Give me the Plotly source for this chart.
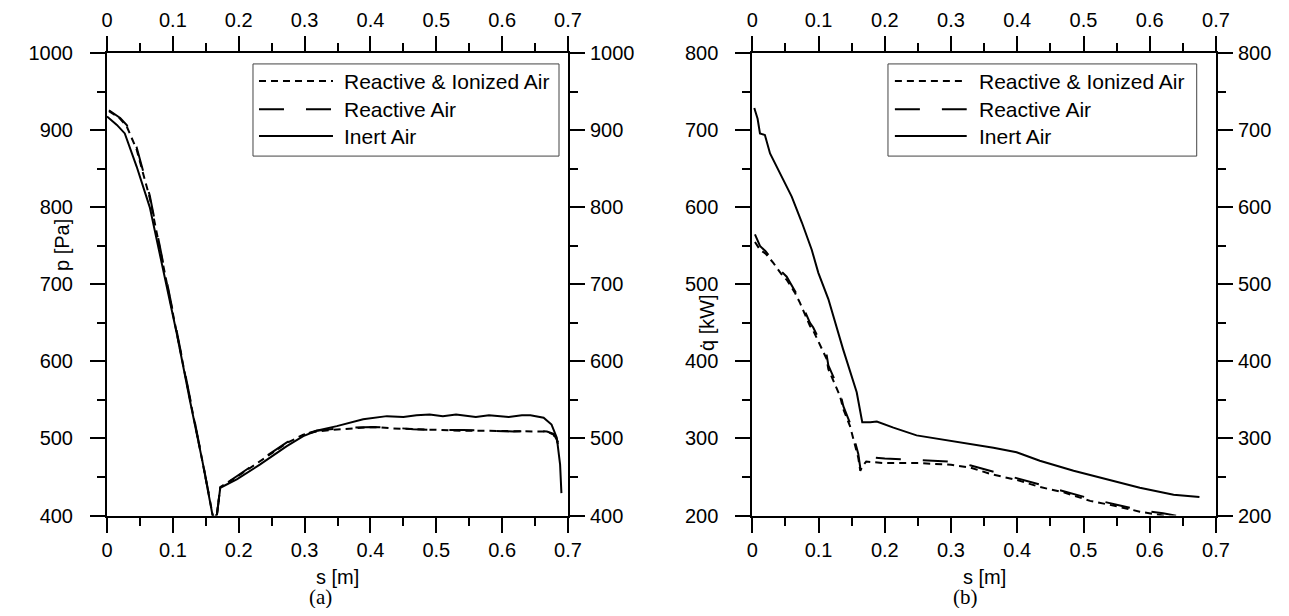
import plotly.graph_objects as go

# ---- panel (a): pressure along s ----
s_inert_a = [0.0, 0.005, 0.015, 0.027, 0.045, 0.065, 0.085, 0.106, 0.126, 0.145, 0.161, 0.1645,
             0.167, 0.172, 0.197, 0.232, 0.273, 0.298, 0.318, 0.349, 0.389, 0.425, 0.45, 0.47,
             0.49, 0.51, 0.53, 0.541, 0.56, 0.58, 0.592, 0.61, 0.63, 0.643, 0.663, 0.675, 0.683,
             0.688, 0.690]
p_inert = [918, 914, 907, 896, 853, 800, 722, 636, 549, 470, 397, 399,
           402, 436, 447, 466, 490, 503, 510, 516, 525, 529, 528, 530,
           531, 529, 531, 530, 528, 530, 529, 528, 530, 530, 527, 518, 501,
           466, 429]

s_react_a = [0.003, 0.01, 0.02, 0.03, 0.045, 0.065, 0.085, 0.106, 0.126, 0.145, 0.1615, 0.164,
             0.167, 0.172, 0.197, 0.232, 0.273, 0.298, 0.318, 0.339, 0.37, 0.404, 0.435, 0.465,
             0.5, 0.541, 0.58, 0.617, 0.65, 0.668, 0.678, 0.685]
p_react_ion = [925, 921, 915, 905, 875, 812, 727, 640, 551, 470, 396, 398,
               402, 437, 450, 470, 494, 505, 509, 511, 513, 515, 513, 512,
               511, 510, 510, 509, 509, 509, 505, 493]
p_react = [926, 922, 916, 907, 878, 815, 729, 641, 552, 471, 397, 396,
           401, 436, 451, 471, 495, 505, 510, 512, 514, 515, 514, 512,
           511, 511, 510, 509, 510, 509, 506, 495]

# ---- panel (b): heat flux along s ----
s_inert_b = [0.003, 0.008, 0.0116, 0.019, 0.0268, 0.0368, 0.049, 0.0595, 0.075, 0.0897, 0.0997,
             0.1148, 0.137, 0.1576, 0.166, 0.178, 0.188, 0.2, 0.213, 0.248, 0.298, 0.33, 0.364,
             0.399, 0.434, 0.485, 0.535, 0.585, 0.636, 0.675]
q_inert = [729, 715, 696, 694, 670, 653, 632, 614, 580, 545, 515,
           481, 416, 360, 321, 321, 322, 318, 314, 304, 297, 293, 288,
           282, 271, 258, 247, 236, 227, 224]

s_react_b = [0.004, 0.0116, 0.02, 0.0317, 0.045, 0.0519, 0.0645, 0.072, 0.0871, 0.092, 0.1123,
             0.1148, 0.1324, 0.1374, 0.1475, 0.155, 0.16, 0.163, 0.167, 0.172, 0.2, 0.25, 0.3,
             0.33, 0.359, 0.4, 0.434, 0.47, 0.51, 0.55, 0.585, 0.62, 0.65, 0.675]
q_react_ion = [555, 545, 540, 528, 512, 506, 489, 476, 446, 440, 403,
               390, 355, 338, 316, 291, 275, 258, 265, 270, 268, 268, 266,
               262, 254, 246, 237, 230, 219, 212, 205, 200, 196, 192]
q_react = [565, 550, 543, 530, 516, 510, 492, 480, 450, 444, 408,
           395, 360, 342, 320, 295, 280, 262, 272, 276, 274, 272, 270,
           265, 258, 249, 240, 232, 222, 214, 207, 203, 198, 194]

legend_names = ["Reactive & Ionized Air", "Reactive Air", "Inert Air"]
dashes = ["7px,5px", "25px,22px", "solid"]

FONT = "Liberation Sans, Arial, sans-serif"
SERIF = "Liberation Serif, Times New Roman, serif"
PAGE_W, PAGE_H = 1289, 616
OFF = 8  # default body margin of the html page
W, H = PAGE_W - 2 * OFF, PAGE_H - 2 * OFF


def fx(px):
    return (px - OFF) / W


def fy(py):
    return (H - (py - OFF)) / H


fig = go.Figure()


def line(x, y, dash, xa, ya):
    return go.Scatter(x=x, y=y, mode="lines", line=dict(color="black", width=2, dash=dash),
                      xaxis=xa, yaxis=ya, showlegend=False, hoverinfo="skip")


fig.add_trace(line(s_react_a, p_react_ion, dashes[0], "x", "y"))
fig.add_trace(line(s_react_a, p_react, dashes[1], "x", "y"))
fig.add_trace(line(s_inert_a, p_inert, dashes[2], "x", "y"))
fig.add_trace(line(s_react_b, q_react_ion, dashes[0], "x2", "y2"))
fig.add_trace(line(s_react_b, q_react, dashes[1], "x2", "y2"))
fig.add_trace(line(s_inert_b, q_inert, dashes[2], "x2", "y2"))

# empty traces so the mirrored (top / right) axes get drawn with labels
for xa, ya in [("x3", "y"), ("x", "y3"), ("x4", "y2"), ("x2", "y4")]:
    fig.add_trace(go.Scatter(x=[None], y=[None], xaxis=xa, yaxis=ya, showlegend=False,
                             hoverinfo="skip"))

ydom = [fy(515.5), fy(53.3)]
dom_a = [fx(107), fx(568)]
dom_b = [fx(752.3), fx(1216)]


def axis(**kw):
    d = dict(showline=True, linewidth=2, linecolor="black", showgrid=False, zeroline=False,
             ticks="outside", ticklen=15, tickwidth=2, tickcolor="black",
             tickfont=dict(family=FONT, size=20, color="black"), automargin=False)
    d.update(kw)
    return d


xminor = dict(dtick=0.05, ticks="outside", ticklen=8, tickwidth=2, tickcolor="black")
yminor = dict(dtick=50, ticks="outside", ticklen=8, tickwidth=2, tickcolor="black")

xa_bot = dict(range=[0, 0.7], dtick=0.1, minor=xminor, ticklabelstandoff=0)
xa_top = dict(range=[0, 0.7], dtick=0.1, minor=xminor, side="top", ticklabelstandoff=1)

fig.update_layout(
    width=W, height=H, margin=dict(l=0, r=0, t=0, b=0),
    paper_bgcolor="white", plot_bgcolor="white", showlegend=False,
    xaxis=axis(domain=dom_a, anchor="y", **xa_bot),
    yaxis=axis(domain=ydom, range=[400, 1000], dtick=100, minor=yminor, anchor="x",
               ticklabelstandoff=13),
    xaxis3=axis(overlaying="x", anchor="y", **xa_top),
    yaxis3=axis(range=[400, 1000], dtick=100, minor=yminor, overlaying="y", side="right",
                anchor="x", ticklabelstandoff=1),
    xaxis2=axis(domain=dom_b, anchor="y2", **xa_bot),
    yaxis2=axis(domain=ydom, range=[200, 800], dtick=100, minor=yminor, anchor="x2",
                ticklabelstandoff=13),
    xaxis4=axis(overlaying="x2", anchor="y2", **xa_top),
    yaxis4=axis(range=[200, 800], dtick=100, minor=yminor, overlaying="y2", side="right",
                anchor="x2", ticklabelstandoff=1),
)

# hand-drawn legend boxes (longer line samples than plotly's legend allows)
legend_boxes = [
    dict(xr="x domain", yr="y domain", box=(0.3167, 0.9805), sample=(0.3297, 0.4902), text=0.5098),
    dict(xr="x2 domain", yr="y2 domain", box=(0.2926, 0.9584), sample=(0.3075, 0.4624), text=0.4839),
]
rows = [0.940, 0.879, 0.821]
for lb in legend_boxes:
    fig.add_shape(type="rect", xref=lb["xr"], yref=lb["yr"], x0=lb["box"][0], x1=lb["box"][1],
                  y0=0.7776, y1=0.977, line=dict(color="#444", width=1), fillcolor="white")
    for name, dash, yy in zip(legend_names, dashes, rows):
        fig.add_shape(type="line", xref=lb["xr"], yref=lb["yr"], x0=lb["sample"][0],
                      x1=lb["sample"][1], y0=yy, y1=yy, line=dict(color="black", width=2, dash=dash))
        fig.add_annotation(xref=lb["xr"], yref=lb["yr"], x=lb["text"], y=yy, text=name,
                           showarrow=False, xanchor="left", yanchor="middle",
                           font=dict(family=FONT, size=21, color="black"))

# axis titles and panel labels
labels = [
    ("p [Pa]", 62, 245, -90, FONT, 20),
    ("q̇ [kW]", 707, 323, -90, FONT, 20),
    ("s [m]", 337, 577, 0, FONT, 20),
    ("s [m]", 984, 577, 0, FONT, 20),
    ("(a)", 320, 597, 0, SERIF, 21),
    ("(b)", 965, 597, 0, SERIF, 21),
]
for txt, px, py, ang, fam, size in labels:
    fig.add_annotation(xref="paper", yref="paper", x=fx(px), y=fy(py), text=txt,
                       showarrow=False, textangle=ang, xanchor="center", yanchor="middle",
                       font=dict(family=fam, size=size, color="black"))

fig.write_html("out.html")
